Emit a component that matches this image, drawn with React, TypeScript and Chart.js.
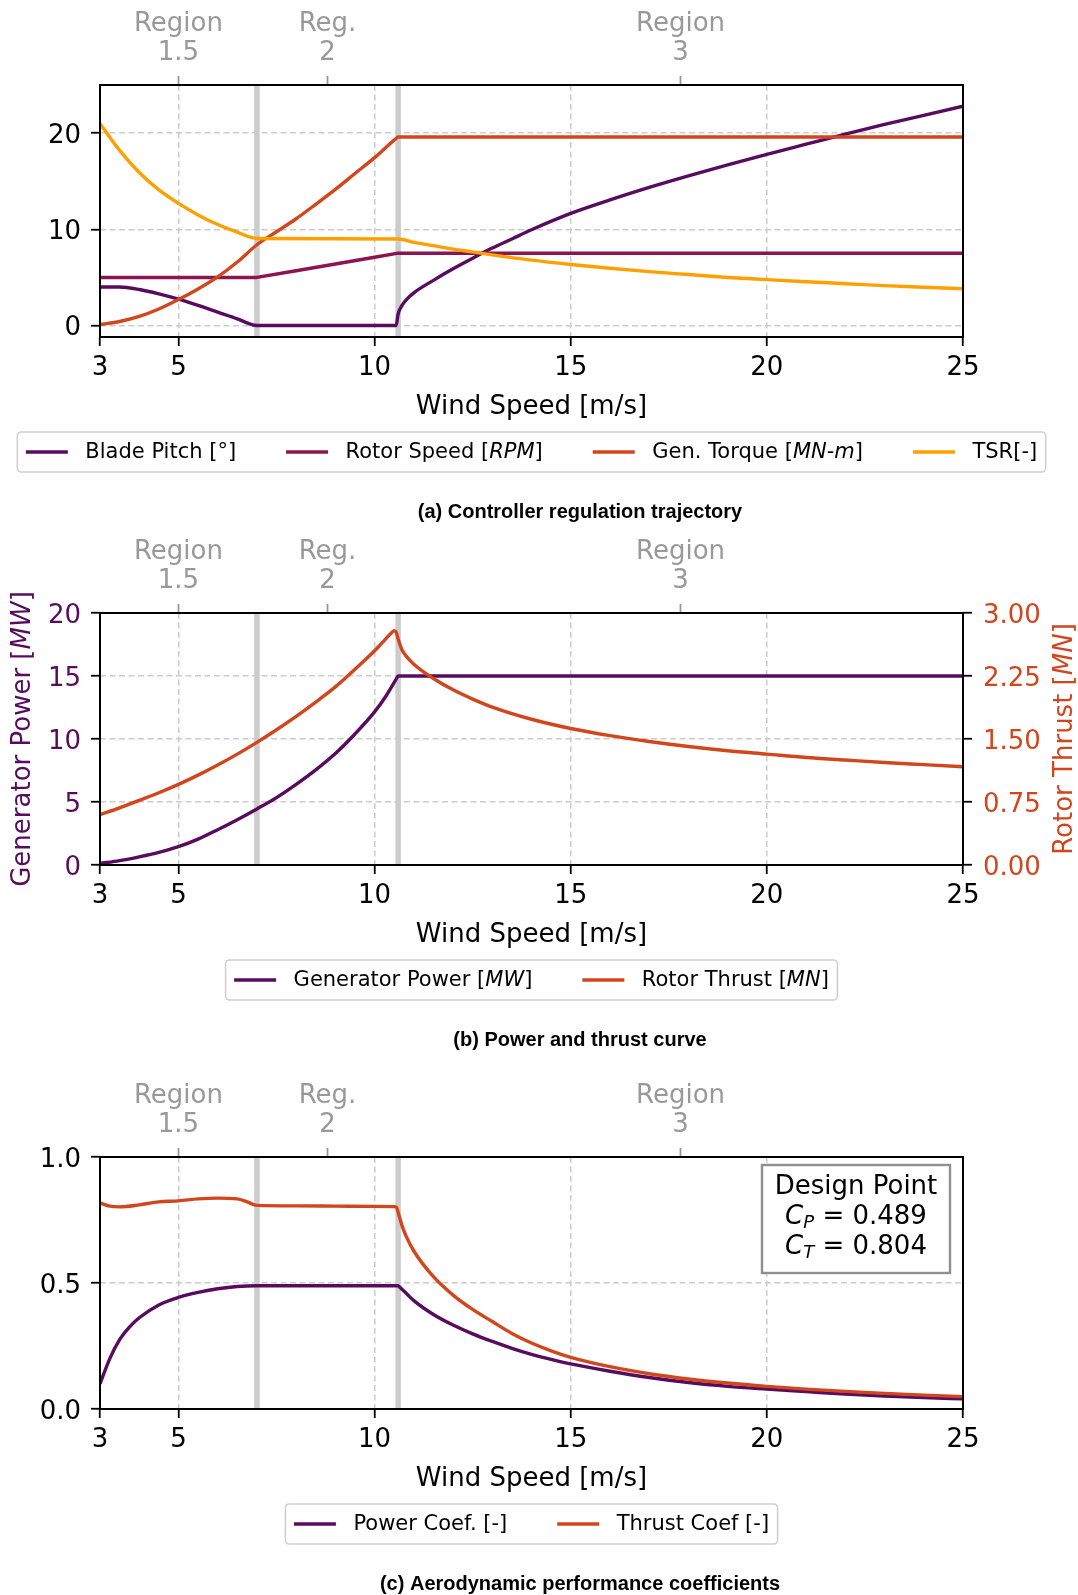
import React, { useEffect, useRef } from 'react';
import { Chart, registerables } from 'chart.js';

Chart.register(...registerables);

// ---------------- data ----------------
const xTicks = [3, 5, 10, 15, 20, 25];
const xTickLabels = ['3', '5', '10', '15', '20', '25'];
const xTitle = 'Wind Speed [m/s]';
const regionTicks = [5, 8.8, 17.8];
const regionLabels = [['Region', '1.5'], ['Reg.', '2'], ['Region', '3']];
const regionBounds = [7, 10.6];

// (a) controller regulation trajectory
const pitchWind = [3, 3.5, 4, 4.5, 5, 5.5, 6, 6.5, 6.8, 7, 8, 9, 10, 10.55, 10.6, 10.7, 10.8, 11, 11.5, 12, 12.5, 13, 13.5, 14, 15, 16, 17, 18, 19, 20, 21, 22, 23, 24, 25];
const bladePitch = [4.0, 4.0, 3.75, 3.3, 2.75, 2.1, 1.4, 0.7, 0.2, 0.0, 0.0, 0.0, 0.0, 0.0, 1.2, 2.1, 2.65, 3.4, 4.7, 5.9, 7.0, 8.05, 9.0, 9.95, 11.65, 13.05, 14.35, 15.55, 16.7, 17.8, 18.85, 19.9, 20.9, 21.85, 22.8];
const rotorWind = [3, 7, 8, 9, 10, 10.6, 25];
const rotorSpeed = [5.0, 5.0, 5.7, 6.4, 7.1, 7.52, 7.52];
const torqueWind = [3, 3.5, 4, 4.5, 5, 5.5, 6, 6.5, 7, 7.5, 8, 8.5, 9, 9.5, 10, 10.55, 10.6, 25];
const genTorque = [0.1, 0.42, 0.95, 1.72, 2.7, 3.8, 5.05, 6.6, 8.4, 9.75, 11.1, 12.6, 14.15, 15.8, 17.45, 19.45, 19.6, 19.6];
const tsrWind = [3, 3.5, 4, 4.5, 5, 5.5, 6, 6.5, 7, 10.6, 11, 11.5, 12, 12.5, 13, 14, 15, 16, 17, 18, 19, 20, 21, 22, 23, 24, 25];
const tsr = [21.0, 18.2, 15.9, 14.1, 12.7, 11.5, 10.5, 9.7, 9.05, 9.0, 8.65, 8.3, 7.95, 7.65, 7.35, 6.8, 6.35, 5.95, 5.6, 5.3, 5.0, 4.77, 4.55, 4.35, 4.15, 3.98, 3.82];
const yRangeA = [-1.19, 25];
const yTicksA = [0, 10, 20];
const yTickLabelsA = ['0', '10', '20'];
const labelsA = ['Blade Pitch [°]', 'Rotor Speed [$RPM$]', 'Gen. Torque [$MN$-$m$]', 'TSR[-]'];
const captionA = '(a) Controller regulation trajectory';

// (b) power and thrust curve
const powerWind = [3, 3.5, 4, 4.5, 5, 5.5, 6, 6.5, 7, 7.5, 8, 8.5, 9, 9.5, 10, 10.3, 10.55, 10.6, 25];
const genPower = [0.12, 0.35, 0.65, 1.0, 1.45, 2.05, 2.8, 3.6, 4.45, 5.35, 6.4, 7.55, 8.85, 10.4, 12.15, 13.45, 14.75, 15.0, 15.0];
const thrustWind = [3, 3.5, 4, 4.5, 5, 5.5, 6, 6.5, 7, 7.5, 8, 8.5, 9, 9.5, 10, 10.2, 10.4, 10.5, 10.55, 10.6, 10.7, 10.8, 11, 11.5, 12, 12.5, 13, 14, 15, 16, 17, 18, 19, 20, 21, 22, 23, 24, 25];
const rotorThrust = [0.60, 0.68, 0.77, 0.86, 0.96, 1.07, 1.19, 1.32, 1.46, 1.61, 1.77, 1.94, 2.12, 2.33, 2.55, 2.65, 2.75, 2.79, 2.77, 2.69, 2.56, 2.49, 2.39, 2.22, 2.085, 1.975, 1.88, 1.735, 1.625, 1.54, 1.47, 1.41, 1.36, 1.32, 1.28, 1.25, 1.22, 1.195, 1.17];
const yRangeB = [0, 20];
const yTicksB = [0, 5, 10, 15, 20];
const yTickLabelsB = ['0', '5', '10', '15', '20'];
const y2RangeB = [0, 3];
const y2TicksB = [0, 0.75, 1.5, 2.25, 3];
const y2TickLabelsB = ['0.00', '0.75', '1.50', '2.25', '3.00'];
const labelsB = ['Generator Power [$MW$]', 'Rotor Thrust [$MN$]'];
const yTitleB = 'Generator Power [$MW$]';
const y2TitleB = 'Rotor Thrust [$MN$]';
const captionB = '(b) Power and thrust curve';

// (c) aerodynamic performance coefficients
const cpWind = [3, 3.25, 3.5, 3.75, 4, 4.5, 5, 5.5, 6, 6.5, 7, 10.6, 10.65, 10.8, 11, 11.5, 12, 12.5, 13, 13.5, 14, 14.5, 15, 16, 17, 18, 19, 20, 21, 22, 23, 24, 25];
const powerCoef = [0.10, 0.20, 0.275, 0.325, 0.362, 0.413, 0.443, 0.463, 0.477, 0.486, 0.489, 0.489, 0.482, 0.46, 0.43, 0.375, 0.333, 0.298, 0.268, 0.241, 0.217, 0.197, 0.179, 0.150, 0.125, 0.105, 0.090, 0.079, 0.069, 0.059, 0.051, 0.045, 0.040];
const ctWind = [3, 3.25, 3.5, 4, 4.5, 5, 5.5, 6, 6.5, 6.75, 7, 8, 9, 10, 10.5, 10.56, 10.6, 10.7, 10.8, 11, 11.5, 12, 12.5, 13, 13.5, 14, 14.5, 15, 16, 17, 18, 19, 20, 21, 22, 23, 24, 25];
const thrustCoef = [0.818, 0.805, 0.802, 0.81, 0.822, 0.826, 0.834, 0.837, 0.834, 0.822, 0.808, 0.806, 0.805, 0.804, 0.803, 0.8, 0.78, 0.727, 0.687, 0.627, 0.525, 0.452, 0.395, 0.347, 0.3, 0.262, 0.231, 0.205, 0.168, 0.14, 0.119, 0.103, 0.09, 0.079, 0.07, 0.062, 0.055, 0.049];
const yRangeC = [0, 1];
const yTicksC = [0, 0.5, 1];
const yTickLabelsC = ['0.0', '0.5', '1.0'];
const labelsC = ['Power Coef. [-]', 'Thrust Coef [-]'];
const designTitle = 'Design Point';
const designCp = '0.489';
const designCt = '0.804';
const captionC = '(c) Aerodynamic performance coefficients';

// ---------------- styling ----------------
const FONT = "'DejaVu Sans', 'Noto Sans', sans-serif";
const CAP_FONT = "bold 20px 'Liberation Sans', Arial, sans-serif";
const C_PURPLE = '#570c5d';
const C_MAGENTA = '#8c1450';
const C_RED = '#d2461e';
const C_ORANGE = '#ffa000';
const GRID = '#cccccc';
const BAND = '#cccccc';
const DASH = [6, 3.5];
const REGION_GRAY = '#999999';
const PANEL_W = 1078;
const PANEL_H = 523;
const AREA = { left: 100, right: 963, top: 85, bottom: 337 };
const BOTTOM_AXIS_H = 100;
const LEGEND_Y = 452;
const CAPTION_X = 580;
const CAPTION_Y = 512;
const Y_LABEL_SHIFT = 3;
const LINE_W = 3.4;
const tickFont = { family: FONT, size: 26, lineHeight: 1.2 };

// ---------------- helpers ----------------
type Seg = { t: string; it: boolean; size: number; dy: number };

function parseSegs(label: string, size: number): Seg[] {
  return label
    .split('$')
    .map((t, i) => ({ t, it: i % 2 === 1, size, dy: 0 }))
    .filter((s) => s.t.length > 0);
}
function segFont(s: Seg) {
  return `${s.it ? 'italic ' : ''}${s.size}px ${FONT}`;
}
function measureSegs(ctx: CanvasRenderingContext2D, segs: Seg[]) {
  let w = 0;
  for (const s of segs) {
    ctx.font = segFont(s);
    w += ctx.measureText(s.t).width;
  }
  return w;
}
function drawSegs(ctx: CanvasRenderingContext2D, segs: Seg[], x: number, y: number, color: string) {
  ctx.fillStyle = color;
  ctx.textAlign = 'left';
  ctx.textBaseline = 'middle';
  let cx = x;
  for (const s of segs) {
    ctx.font = segFont(s);
    ctx.fillText(s.t, cx, y + s.dy);
    cx += ctx.measureText(s.t).width;
  }
}
function drawSegsCentered(ctx: CanvasRenderingContext2D, segs: Seg[], cx: number, y: number, color: string) {
  const w = measureSegs(ctx, segs);
  drawSegs(ctx, segs, cx - w / 2, y, color);
}
function roundRectPath(ctx: CanvasRenderingContext2D, x: number, y: number, w: number, h: number, r: number) {
  ctx.beginPath();
  ctx.moveTo(x + r, y);
  ctx.lineTo(x + w - r, y);
  ctx.arcTo(x + w, y, x + w, y + r, r);
  ctx.lineTo(x + w, y + h - r);
  ctx.arcTo(x + w, y + h, x + w - r, y + h, r);
  ctx.lineTo(x + r, y + h);
  ctx.arcTo(x, y + h, x, y + h - r, r);
  ctx.lineTo(x, y + r);
  ctx.arcTo(x, y, x + r, y, r);
  ctx.closePath();
}

function drawLegend(ctx: CanvasRenderingContext2D, chart: any) {
  const size = 21;
  const items = chart.data.datasets.map((d: any) => {
    const segs = parseSegs(d.label, size);
    return { segs, color: d.borderColor, w: measureSegs(ctx, segs) };
  });
  const handle = 42;
  const hpad = 17.5;
  const col = 50;
  const pad = 8.5;
  const total = items.reduce((s: number, it: any) => s + handle + hpad + it.w, 0) + col * (items.length - 1);
  const a = chart.chartArea;
  const cx = (a.left + a.right) / 2;
  const left = cx - total / 2;
  ctx.save();
  roundRectPath(ctx, left - pad, LEGEND_Y - 20, total + 2 * pad, 40, 4);
  ctx.fillStyle = 'rgba(255,255,255,0.9)';
  ctx.fill();
  ctx.strokeStyle = '#d0d0d0';
  ctx.lineWidth = 1.6;
  ctx.stroke();
  let x = left;
  for (const it of items) {
    ctx.strokeStyle = it.color;
    ctx.lineWidth = LINE_W;
    ctx.lineCap = 'butt';
    ctx.beginPath();
    ctx.moveTo(x, LEGEND_Y);
    ctx.lineTo(x + handle, LEGEND_Y);
    ctx.stroke();
    drawSegs(ctx, it.segs, x + handle + hpad, LEGEND_Y + 1, '#000');
    x += handle + hpad + it.w + col;
  }
  ctx.restore();
}

function drawDesign(ctx: CanvasRenderingContext2D, a: any) {
  const bw = 188;
  const bh = 108;
  const bx = a.right - 13 - bw;
  const by = a.top + 8;
  ctx.save();
  ctx.fillStyle = '#ffffff';
  ctx.fillRect(bx, by, bw, bh);
  ctx.strokeStyle = '#8f8f8f';
  ctx.lineWidth = 2.4;
  ctx.strokeRect(bx, by, bw, bh);
  const cx = bx + bw / 2;
  drawSegsCentered(ctx, [{ t: designTitle, it: false, size: 26, dy: 0 }], cx, by + 22, '#000');
  const mathLine = (sub: string, val: string): Seg[] => [
    { t: 'C', it: true, size: 26, dy: 0 },
    { t: sub, it: true, size: 18, dy: 6 },
    { t: ' = ', it: false, size: 26, dy: 0 },
    { t: val, it: false, size: 26, dy: 0 },
  ];
  drawSegsCentered(ctx, mathLine('P', designCp), cx, by + 52, '#000');
  drawSegsCentered(ctx, mathLine('T', designCt), cx, by + 82, '#000');
  ctx.restore();
}

function drawRotatedTitle(ctx: CanvasRenderingContext2D, label: string, x: number, y: number, color: string) {
  const segs = parseSegs(label, 26);
  const w = measureSegs(ctx, segs);
  ctx.save();
  ctx.translate(x, y);
  ctx.rotate(-Math.PI / 2);
  drawSegs(ctx, segs, -w / 2, 0, color);
  ctx.restore();
}

function makeDecor(o: any) {
  return {
    id: 'decor',
    beforeDraw(chart: any) {
      // nudge vertical-axis tick labels so they sit centred on their ticks
      for (const id of ['y', 'y2']) {
        const s = chart.scales[id];
        if (!s || typeof s._computeLabelItems !== 'function') continue;
        const items = s._computeLabelItems(chart.chartArea);
        items.forEach((it: any) => {
          const tr = it.options.translation;
          it.options.translation = [tr[0], tr[1] + Y_LABEL_SHIFT];
        });
        s._labelItems = items;
      }
    },
    beforeDatasetsDraw(chart: any) {
      const { ctx, chartArea: a } = chart;
      const xs = chart.scales.x;
      ctx.save();
      ctx.strokeStyle = BAND;
      ctx.lineWidth = 5.5;
      regionBounds.forEach((b) => {
        const px = xs.getPixelForValue(b);
        ctx.beginPath();
        ctx.moveTo(px, a.top);
        ctx.lineTo(px, a.bottom);
        ctx.stroke();
      });
      ctx.restore();
    },
    afterDatasetsDraw(chart: any) {
      const { ctx, chartArea: a } = chart;
      ctx.save();
      ctx.strokeStyle = '#000';
      ctx.lineWidth = 2;
      ctx.strokeRect(a.left, a.top, a.right - a.left, a.bottom - a.top);
      ctx.restore();
      if (o.design) drawDesign(ctx, a);
    },
    afterDraw(chart: any) {
      const { ctx, chartArea: a } = chart;
      drawLegend(ctx, chart);
      ctx.save();
      ctx.font = CAP_FONT;
      ctx.fillStyle = '#000';
      ctx.textAlign = 'center';
      ctx.textBaseline = 'middle';
      ctx.fillText(o.caption, CAPTION_X, CAPTION_Y);
      ctx.restore();
      const cy = (a.top + a.bottom) / 2;
      if (o.leftTitle) drawRotatedTitle(ctx, o.leftTitle.text, 23.5, cy, o.leftTitle.color);
      if (o.rightTitle) drawRotatedTitle(ctx, o.rightTitle.text, 1065, cy, o.rightTitle.color);
    },
  };
}

// ---------------- axes ----------------
function bottomAxis() {
  return {
    type: 'linear',
    position: 'bottom',
    min: 3,
    max: 25,
    afterBuildTicks: (s: any) => {
      s.ticks = xTicks.map((v) => ({ value: v }));
    },
    afterFit: (s: any) => {
      s.height = BOTTOM_AXIS_H;
    },
    ticks: {
      autoSkip: false,
      maxRotation: 0,
      minRotation: 0,
      padding: 7,
      color: '#000',
      font: tickFont,
      callback: (_v: any, i: number) => xTickLabels[i],
    },
    grid: {
      display: true,
      drawOnChartArea: true,
      drawTicks: true,
      color: GRID,
      lineWidth: 1.5,
      tickLength: 9,
      tickColor: '#000',
      tickWidth: 1.8,
    },
    border: { display: false, dash: DASH },
    title: {
      display: true,
      text: xTitle,
      color: '#000',
      font: { family: FONT, size: 26, lineHeight: 1.2 },
      padding: { top: 0, bottom: 14.6 },
    },
  };
}

function topAxis() {
  return {
    type: 'linear',
    position: 'top',
    min: 3,
    max: 25,
    afterBuildTicks: (s: any) => {
      s.ticks = regionTicks.map((v) => ({ value: v }));
    },
    afterFit: (s: any) => {
      s.height = AREA.top;
    },
    ticks: {
      autoSkip: false,
      maxRotation: 0,
      minRotation: 0,
      padding: 8,
      color: REGION_GRAY,
      font: { family: FONT, size: 26, lineHeight: 1.12 },
      callback: (_v: any, i: number) => regionLabels[i],
    },
    grid: {
      display: true,
      drawOnChartArea: false,
      drawTicks: true,
      color: GRID,
      tickLength: 9,
      tickColor: REGION_GRAY,
      tickWidth: 1.8,
    },
    border: { display: false },
  };
}

function yAxis(pos: string, range: number[], ticks: number[], labels: string[], color: string, onArea: boolean, width: number, pad: number) {
  return {
    type: 'linear',
    position: pos,
    min: range[0],
    max: range[1],
    afterBuildTicks: (s: any) => {
      s.ticks = ticks.map((v) => ({ value: v }));
    },
    afterFit: (s: any) => {
      s.width = width;
    },
    ticks: {
      autoSkip: false,
      padding: pad,
      color,
      font: tickFont,
      callback: (_v: any, i: number) => labels[i],
    },
    grid: {
      display: true,
      drawOnChartArea: onArea,
      drawTicks: true,
      color: GRID,
      lineWidth: 1.5,
      tickLength: 9,
      tickColor: '#000',
      tickWidth: 1.8,
    },
    border: { display: false, dash: DASH },
  };
}

function line(label: string, xs: number[], ys: number[], color: string, order: number, extra: any = {}) {
  return {
    label,
    data: xs.map((x, i) => ({ x, y: ys[i] })),
    borderColor: color,
    backgroundColor: color,
    borderWidth: LINE_W,
    borderJoinStyle: 'round',
    pointRadius: 0,
    pointHoverRadius: 0,
    fill: false,
    cubicInterpolationMode: 'monotone',
    order,
    ...extra,
  };
}

function baseOptions(scales: any, padRight: number) {
  return {
    responsive: false,
    animation: false,
    devicePixelRatio: 1,
    events: [],
    layout: { padding: { left: 0, top: 0, right: padRight, bottom: PANEL_H - AREA.bottom - BOTTOM_AXIS_H } },
    plugins: { legend: { display: false }, tooltip: { enabled: false }, title: { display: false } },
    scales,
  };
}

function configA() {
  return {
    type: 'line',
    data: {
      datasets: [
        line(labelsA[0], pitchWind, bladePitch, C_PURPLE, 4),
        line(labelsA[1], rotorWind, rotorSpeed, C_MAGENTA, 3, { cubicInterpolationMode: 'default', tension: 0 }),
        line(labelsA[2], torqueWind, genTorque, C_RED, 2),
        line(labelsA[3], tsrWind, tsr, C_ORANGE, 1),
      ],
    },
    options: baseOptions(
      {
        x: bottomAxis(),
        xTop: topAxis(),
        y: yAxis('left', yRangeA, yTicksA, yTickLabelsA, '#000', true, AREA.left, 10),
      },
      PANEL_W - AREA.right
    ),
    plugins: [makeDecor({ caption: captionA })],
  };
}

function configB() {
  return {
    type: 'line',
    data: {
      datasets: [
        line(labelsB[0], powerWind, genPower, C_PURPLE, 2, { yAxisID: 'y' }),
        line(labelsB[1], thrustWind, rotorThrust, C_RED, 1, { yAxisID: 'y2' }),
      ],
    },
    options: baseOptions(
      {
        x: bottomAxis(),
        xTop: topAxis(),
        y: yAxis('left', yRangeB, yTicksB, yTickLabelsB, C_PURPLE, true, AREA.left, 10),
        y2: yAxis('right', y2RangeB, y2TicksB, y2TickLabelsB, C_RED, false, PANEL_W - AREA.right, 11),
      },
      0
    ),
    plugins: [
      makeDecor({
        caption: captionB,
        leftTitle: { text: yTitleB, color: C_PURPLE },
        rightTitle: { text: y2TitleB, color: C_RED },
      }),
    ],
  };
}

function configC() {
  return {
    type: 'line',
    data: {
      datasets: [
        line(labelsC[0], cpWind, powerCoef, C_PURPLE, 2),
        line(labelsC[1], ctWind, thrustCoef, C_RED, 1),
      ],
    },
    options: baseOptions(
      {
        x: bottomAxis(),
        xTop: topAxis(),
        y: yAxis('left', yRangeC, yTicksC, yTickLabelsC, '#000', true, AREA.left, 10),
      },
      PANEL_W - AREA.right
    ),
    plugins: [makeDecor({ caption: captionC, design: true })],
  };
}

function Panel({ top, make }: { top: number; make: () => any }) {
  const ref = useRef<HTMLCanvasElement>(null);
  useEffect(() => {
    const chart = new Chart(ref.current as HTMLCanvasElement, make());
    return () => chart.destroy();
  }, []);
  return (
    <canvas
      ref={ref}
      width={PANEL_W}
      height={PANEL_H}
      style={{ position: 'absolute', left: 0, top, width: PANEL_W, height: PANEL_H, display: 'block' }}
    />
  );
}

export default function App() {
  return (
    <div
      style={{
        position: 'absolute',
        left: 0,
        top: 0,
        width: 1078,
        height: 1595,
        background: '#ffffff',
        overflow: 'hidden',
      }}
    >
      <Panel top={0} make={configA} />
      <Panel top={528} make={configB} />
      <Panel top={1072} make={configC} />
    </div>
  );
}
